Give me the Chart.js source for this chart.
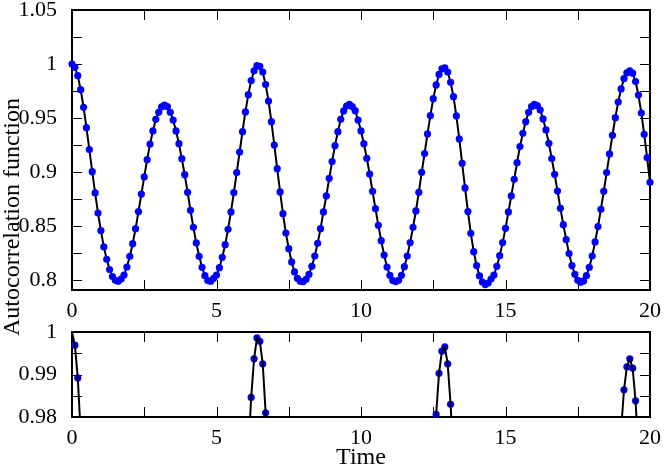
<!DOCTYPE html>
<html>
<head>
<meta charset="utf-8">
<script src="https://cdn.jsdelivr.net/npm/chart.js@4/dist/chart.umd.min.js"></script>
<style>
  body { margin: 0; background: #fff; }
  #wrap { position: relative; width: 664px; height: 476px; }
  #top, #bot { position: absolute; left: 0; }
  #top { top: 0; }
  #bot { top: 322px; }
  #ylab {
    position: absolute; left: -140px; top: 205px; width: 300px; height: 24px;
    line-height: 24px; text-align: center; font: 24px "Liberation Serif", serif;
    transform: rotate(-90deg);
  }
</style>
</head>
<body>
<div id="wrap">
  <canvas id="top" width="664" height="322"></canvas>
  <canvas id="bot" width="664" height="154"></canvas>
  <div id="ylab">Autocorrelation function</div>
</div>
<script>
// sampling step of the time axis
const dt = 0.1;

// autocorrelation values, t = 0 .. 20
const acf = [
  1.0, 0.9969, 0.9892, 0.9762, 0.9599, 0.941, 0.9207, 0.9003, 0.8806, 0.862,
  0.8457, 0.8306, 0.8191, 0.8096, 0.8031, 0.7997, 0.7988, 0.8009, 0.8046, 0.812,
  0.8219, 0.8336, 0.8475, 0.8633, 0.8796, 0.8954, 0.9114, 0.9259, 0.938, 0.9488,
  0.9552, 0.9602, 0.962, 0.9605, 0.9552, 0.9481, 0.938, 0.9262, 0.9123, 0.8975,
  0.8812, 0.8645, 0.8488, 0.8343, 0.8219, 0.8117, 0.804, 0.7994, 0.7988, 0.8015,
  0.8046, 0.8114, 0.821, 0.8327, 0.8469, 0.863, 0.8809, 0.8994, 0.9185, 0.9373,
  0.9556, 0.9716, 0.9846, 0.9937, 0.9986, 0.9978, 0.9925, 0.981, 0.9657, 0.9466,
  0.925, 0.9031, 0.8815, 0.8614, 0.8435, 0.829, 0.8167, 0.8074, 0.8015, 0.7988,
  0.7985, 0.8006, 0.8052, 0.8127, 0.8222, 0.834, 0.8475, 0.863, 0.8778, 0.8941,
  0.9096, 0.9244, 0.9373, 0.9488, 0.9565, 0.9611, 0.9627, 0.9605, 0.9568, 0.9481,
  0.938, 0.9262, 0.9127, 0.8981, 0.8821, 0.866, 0.8506, 0.8364, 0.8231, 0.812,
  0.8043, 0.7994, 0.7985, 0.7997, 0.8043, 0.8123, 0.8222, 0.8346, 0.8488, 0.8639,
  0.8812, 0.8997, 0.917, 0.9352, 0.9522, 0.9679, 0.9806, 0.9903, 0.9955, 0.9965,
  0.9925, 0.983, 0.9697, 0.9519, 0.9306, 0.908, 0.8852, 0.8633, 0.8432, 0.8262,
  0.8133, 0.8037, 0.7981, 0.7957, 0.7972, 0.8009, 0.8046, 0.8127, 0.8225, 0.8346,
  0.8478, 0.863, 0.8778, 0.8932, 0.9086, 0.9235, 0.9358, 0.9466, 0.9552, 0.9605,
  0.9627, 0.9614, 0.9574, 0.9491, 0.9389, 0.9265, 0.9125, 0.8978, 0.8824, 0.8664,
  0.8512, 0.8373, 0.8244, 0.8133, 0.8052, 0.7997, 0.7978, 0.7991, 0.804, 0.8117,
  0.8222, 0.8352, 0.8494, 0.8654, 0.8821, 0.8994, 0.9167, 0.934, 0.9503, 0.9648,
  0.9769, 0.9864, 0.9918, 0.9937, 0.9915, 0.9838, 0.9713, 0.9546, 0.9349, 0.9133,
  0.8904
];

const xTicks = [0, 5, 10, 15, 20];
const topYLabels = [0.8, 0.85, 0.9, 0.95, 1, 1.05];
const botYLabels = [0.98, 0.99, 1];

const pts = acf.map((v, i) => ({ x: +(i * dt).toFixed(1), y: v }));
const font = { family: '"Liberation Serif", serif', size: 22 };

const near = (arr, v) => arr.some(a => Math.abs(a - v) < 1e-6);

// frame + inward ticks on all four sides, like xmgrace
const frameTicks = {
  id: 'frameTicks',
  beforeDatasetsDraw(chart) {
    const { ctx, chartArea: a, scales: { x, y } } = chart;
    ctx.save();
    ctx.strokeStyle = '#000';
    ctx.lineWidth = 1;
    ctx.beginPath();
    x.ticks.forEach(t => {
      const px = Math.round(x.getPixelForValue(t.value)) + 0.5;
      ctx.moveTo(px, a.top); ctx.lineTo(px, a.top + 10);
      ctx.moveTo(px, a.bottom); ctx.lineTo(px, a.bottom - 10);
    });
    y.ticks.forEach(t => {
      const py = Math.round(y.getPixelForValue(t.value)) + 0.5;
      ctx.moveTo(a.left, py); ctx.lineTo(a.left + 10, py);
      ctx.moveTo(a.right, py); ctx.lineTo(a.right - 10, py);
    });
    ctx.stroke();
    ctx.lineWidth = 2;
    ctx.strokeRect(a.left, a.top, a.right - a.left, a.bottom - a.top);
    ctx.restore();
  }
};

function xScale(h, title) {
  return {
    type: 'linear', min: 0, max: 20,
    grid: { display: false }, border: { display: false },
    ticks: {
      stepSize: 2.5, autoSkip: false, maxRotation: 0, padding: 0, color: '#000', font,
      callback: v => near(xTicks, v) ? String(v) : ''
    },
    title: title ? { display: true, text: title, color: '#000', padding: { top: 4 },
                     font: { family: font.family, size: 24 } } : { display: false },
    afterFit(s) { s.height = h; s.paddingLeft = 0; s.paddingRight = 0; }
  };
}

function yScale(min, max, step, labels) {
  return {
    min, max,
    grid: { display: false }, border: { display: false },
    ticks: {
      stepSize: step, includeBounds: false, autoSkip: false, padding: 7, color: '#000', font,
      callback: v => near(labels, v) ? String(parseFloat(v.toFixed(3))) : ''
    },
    afterFit(s) { s.width = 72; s.paddingTop = 0; s.paddingBottom = 0; }
  };
}

const common = {
  responsive: false, animation: false, devicePixelRatio: 1,
  plugins: { legend: { display: false }, tooltip: { enabled: false } }
};

new Chart(document.getElementById('top'), {
  type: 'line',
  data: {
    datasets: [{
      data: pts, borderColor: '#000', borderWidth: 2, tension: 0,
      pointRadius: 3.6, pointBackgroundColor: '#0000ff', pointBorderWidth: 0,
      clip: 6
    }]
  },
  options: {
    ...common,
    layout: { padding: { top: 10, right: 14, left: 0, bottom: 0 } },
    scales: { x: xScale(32), y: yScale(0.7907, 1.05, 0.025, topYLabels) }
  },
  plugins: [frameTicks]
});

new Chart(document.getElementById('bot'), {
  type: 'line',
  data: {
    datasets: [
      { data: pts, borderColor: '#000', borderWidth: 2, tension: 0, pointRadius: 0 },
      {
        data: pts, showLine: false, clip: false,
        pointRadius: c => (c.raw && c.raw.y >= 0.98 && c.raw.y < 1) ? 3.6 : 0,
        pointBackgroundColor: '#0000ff', pointBorderWidth: 0
      }
    ]
  },
  options: {
    ...common,
    layout: { padding: { top: 10, right: 14, left: 0, bottom: 0 } },
    scales: { x: xScale(59, 'Time'), y: yScale(0.98, 1.0, 0.005, botYLabels) }
  },
  plugins: [frameTicks]
});
</script>
</body>
</html>
